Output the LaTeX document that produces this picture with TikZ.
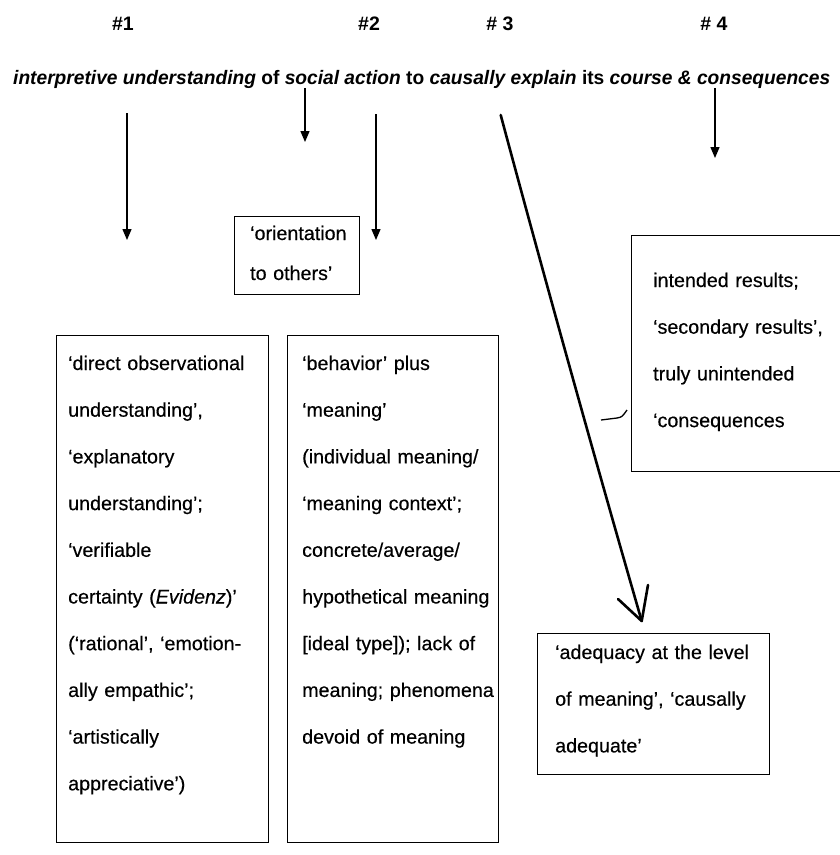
\documentclass[tikz,border=0pt]{standalone}
\usepackage{fontspec}
\usepackage{graphicx}
\setmainfont{Liberation Sans}[UprightFeatures={FakeBold=0.35},ItalicFeatures={FakeBold=0.35}]
\usetikzlibrary{arrows.meta}
\begin{document}
\begin{tikzpicture}[x=1pt,y=-1pt,
  boxshape/.style={draw, line width=1.3pt, anchor=north west, inner sep=0pt},
  txt/.style={anchor=base west, inner sep=0pt, align=left, text width=#1,
              font=\fontsize{19.7}{46.7}\selectfont},
  hdr/.style={anchor=base, inner sep=0pt, font=\bfseries\fontsize{19.5}{22}\selectfont},
  arr/.style={line width=1.4pt, -{Triangle[length=11pt,width=9pt]}},
  bigarr/.style={line width=2.6pt, line cap=round, line join=round}]
\useasboundingbox (0,0) rectangle (839,855);

% headers
\node[hdr] (h1) at (123,30) {\#1};
\node[hdr] (h2) at (369,30) {\#2};
\node[hdr] (h3) at (500,30) {\# 3};
\node[hdr] (h4) at (714,30) {\# 4};

% title
\node[anchor=base west, inner sep=0pt, font=\bfseries\fontsize{19.5}{22}\selectfont] (title) at (13,84)
  {\resizebox{817pt}{\height}{\itshape interpretive understanding\/ \upshape of \itshape social action\/ \upshape to \itshape causally explain\/ \upshape its \itshape course \& consequences}};

% boxes
\node[boxshape, minimum width=125pt, minimum height=78pt] (bo) at (234,216) {};
\node[txt=110pt] (to) at (250,240) {`orientation\\[-6.7pt]to others'};

\node[boxshape, minimum width=212pt, minimum height=507pt] (b1) at (56,335) {};
\node[txt=200pt] (t1) at (68,370) {`direct observational\\understanding',\\`explanatory\\understanding';\\`verifiable\\certainty (\textit{Evidenz})'\\(`rational', `emotion-\\ally empathic';\\`artistically\\appreciative')};

\node[boxshape, minimum width=211pt, minimum height=507pt] (b2) at (287,335) {};
\node[txt=205pt] (t2) at (302,370) {`behavior' plus\\`meaning'\\(individual meaning/\\`meaning context';\\concrete/average/\\hypothetical meaning\\{[}ideal type]); lack of\\meaning; phenomena\\devoid of meaning};

\node[boxshape, minimum width=230pt, minimum height=236pt] (b4) at (630.7,235) {};
\node[txt=190pt] (t4) at (653,287) {intended results;\\`secondary results',\\truly unintended\\`consequences};

\node[boxshape, minimum width=232pt, minimum height=141pt] (b5) at (537,633) {};
\node[txt=210pt] (t5) at (555,659) {`adequacy at the level\\of meaning', `causally\\adequate'};

% arrow coordinates
\coordinate (s1) at (127,113);  \coordinate (e1) at (127,240);
\coordinate (s2a) at (305,88);  \coordinate (e2a) at (305,142);
\coordinate (s2b) at (376,114); \coordinate (e2b) at (376,240);
\coordinate (s4) at (715,88);   \coordinate (e4) at (715,158);
\coordinate (s3) at (500.7,115); \coordinate (e3) at (641.7,621);
\coordinate (w3l) at (618,599); \coordinate (w3r) at (648,585);

\draw[arr] (s1) -- (e1);
\draw[arr] (s2a) -- (e2a);
\draw[arr] (s2b) -- (e2b);
\draw[arr] (s4) -- (e4);

\draw[bigarr] (s3) .. controls (545,280) and (598,470) .. (e3);
\draw[bigarr] (w3l) -- (e3) -- (w3r);

% small mark left of box 4
\coordinate (m1) at (601,420); \coordinate (m2) at (617,418); \coordinate (m3) at (627,410);
\draw[line width=1.3pt] (m1) -- (m2) .. controls (622,417) .. (m3);
\end{tikzpicture}
\end{document}
